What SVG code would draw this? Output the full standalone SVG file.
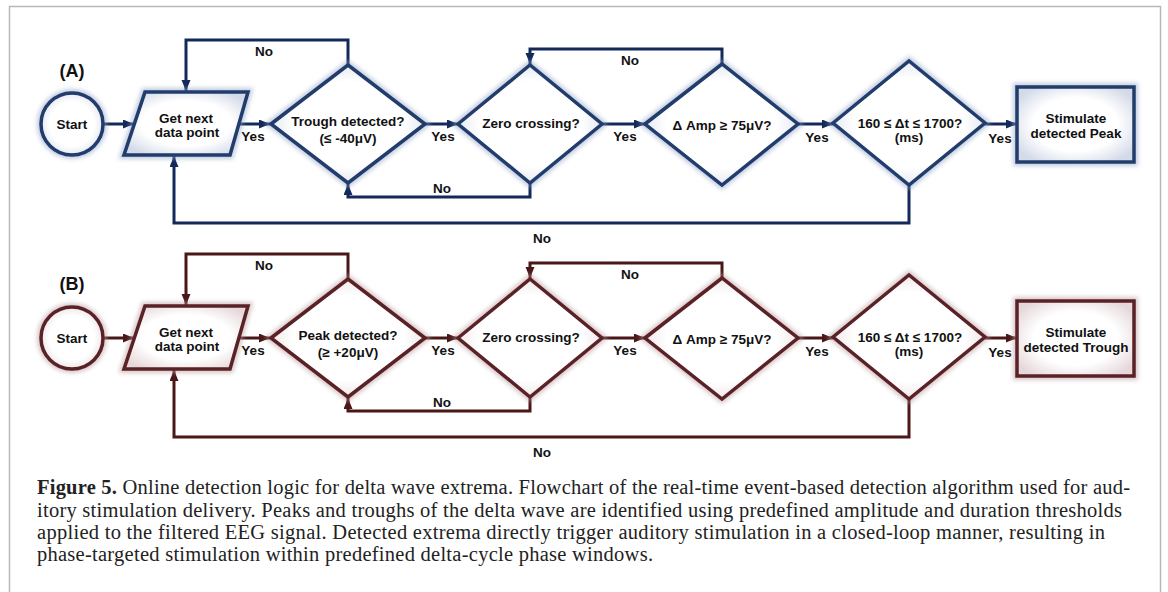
<svg xmlns="http://www.w3.org/2000/svg" width="1168" height="592" viewBox="0 0 1168 592">
<defs>
<style>
.lbl{font-family:"Liberation Sans",Arial,sans-serif;font-weight:bold;font-size:13.5px;fill:#111;text-anchor:middle}
.pan{font-family:"Liberation Sans",Arial,sans-serif;font-weight:bold;font-size:18px;fill:#111;text-anchor:middle}
.cap{font-family:"Liberation Serif","Times New Roman",serif;font-size:20.5px;fill:#222}
.nA{fill:url(#gA);stroke:#203c6c;stroke-width:3.5;stroke-linejoin:miter}
.hA{fill:none;stroke:#8fa2c6;stroke-width:8;opacity:.55}
.nB{fill:url(#gB);stroke:#5a2226;stroke-width:3.5;stroke-linejoin:miter}
.hB{fill:none;stroke:#b99a9c;stroke-width:8;opacity:.55}
.cA{fill:none;stroke:#13295a;stroke-width:3}
.cB{fill:none;stroke:#4a1719;stroke-width:3}
</style>
<radialGradient id="gA" cx="50%" cy="50%" r="60%">
<stop offset="0.6" stop-color="#ffffff"/>
<stop offset="1" stop-color="#d3dae8"/>
</radialGradient>
<radialGradient id="gB" cx="50%" cy="50%" r="60%">
<stop offset="0.6" stop-color="#ffffff"/>
<stop offset="1" stop-color="#e6d8da"/>
</radialGradient>
<filter id="blur" x="-20%" y="-20%" width="140%" height="140%"><feGaussianBlur stdDeviation="2"/></filter>
<filter id="soft" x="-10%" y="-10%" width="120%" height="120%"><feGaussianBlur stdDeviation="0.5"/></filter>
<marker id="aA" markerUnits="userSpaceOnUse" markerWidth="12" markerHeight="10" refX="11" refY="4.5" orient="auto"><path d="M0,0 L11,4.5 L0,9 Z" fill="#13295a"/></marker>
<marker id="aB" markerUnits="userSpaceOnUse" markerWidth="12" markerHeight="10" refX="11" refY="4.5" orient="auto"><path d="M0,0 L11,4.5 L0,9 Z" fill="#4a1719"/></marker>
</defs>
<rect x="0" y="0" width="1168" height="592" fill="#ffffff"/>
<rect x="9.5" y="6.5" width="1151" height="600" fill="#ffffff" stroke="#b8b8b8" stroke-width="1.5"/>

<!-- Panel A -->
<g id="panelA">
<text class="pan" x="72" y="77">(A)</text>
<g id="connectorsA">
<path class="cA" d="M104,124 H134" marker-end="url(#aA)"/>
<path class="cA" d="M239,124 H270" marker-end="url(#aA)"/>
<path class="cA" d="M348,65 V40 H186 V91" marker-end="url(#aA)"/>
<path class="cA" d="M425,124 H458" marker-end="url(#aA)"/>
<path class="cA" d="M530,183 V197 H348 V184" marker-end="url(#aA)"/>
<path class="cA" d="M722,64 V49 H530 V64" marker-end="url(#aA)"/>
<path class="cA" d="M602,124 H645" marker-end="url(#aA)"/>
<path class="cA" d="M798,124 H833" marker-end="url(#aA)"/>
<path class="cA" d="M985,124 H1017" marker-end="url(#aA)"/>
<path class="cA" d="M909,185 V223 H174 V156" marker-end="url(#aA)"/>
<text class="lbl" x="253" y="141">Yes</text>
<text class="lbl" x="264" y="56">No</text>
<text class="lbl" x="443" y="141">Yes</text>
<text class="lbl" x="442" y="193">No</text>
<text class="lbl" x="630" y="65">No</text>
<text class="lbl" x="625" y="141">Yes</text>
<text class="lbl" x="817" y="142">Yes</text>
<text class="lbl" x="1000" y="143">Yes</text>
<text class="lbl" x="542" y="243">No</text>
</g>
<g id="startA">
<circle class="hA" cx="72" cy="124" r="31" filter="url(#blur)"/>
<circle class="nA" cx="72" cy="124" r="31" filter="url(#soft)"/>
<text class="lbl" x="72" y="129">Start</text>
</g>
<g id="getA">
<polygon class="hA" points="145,92 248,92 230,155 124,155" filter="url(#blur)"/>
<polygon class="nA" points="145,92 248,92 230,155 124,155" filter="url(#soft)"/>
<text class="lbl" x="186" y="123">Get next</text>
<text class="lbl" x="187" y="137">data point</text>
</g>
<g id="troughA">
<polygon class="hA" points="271,124 348,65 425,124 348,183" filter="url(#blur)"/>
<polygon class="nA" points="271,124 348,65 425,124 348,183" filter="url(#soft)"/>
<text class="lbl" x="348" y="126">Trough detected?</text>
<text class="lbl" x="348" y="143">(≤ -40μV)</text>
</g>
<g id="zeroA">
<polygon class="hA" points="458,124 530,65 602,124 530,183" filter="url(#blur)"/>
<polygon class="nA" points="458,124 530,65 602,124 530,183" filter="url(#soft)"/>
<text class="lbl" x="531" y="128">Zero crossing?</text>
</g>
<g id="ampA">
<polygon class="hA" points="645,124 722,64 798,124 722,185" filter="url(#blur)"/>
<polygon class="nA" points="645,124 722,64 798,124 722,185" filter="url(#soft)"/>
<text class="lbl" x="722" y="130">Δ Amp ≥ 75μV?</text>
</g>
<g id="dtA">
<polygon class="hA" points="833,123 909,61 985,123 909,185" filter="url(#blur)"/>
<polygon class="nA" points="833,123 909,61 985,123 909,185" filter="url(#soft)"/>
<text class="lbl" x="910" y="128">160 ≤ Δt ≤ 1700?</text>
<text class="lbl" x="909" y="142">(ms)</text>
</g>
<g id="stimA">
<rect class="hA" x="1017" y="87" width="117" height="75" filter="url(#blur)"/>
<rect class="nA" x="1017" y="87" width="117" height="75" filter="url(#soft)"/>
<text class="lbl" x="1076" y="123">Stimulate</text>
<text class="lbl" x="1076" y="138">detected Peak</text>
</g>
</g>

<!-- Panel B -->
<g id="panelB" transform="translate(0,214)">
<text class="pan" x="72" y="76">(B)</text>
<g id="connectorsB">
<path class="cB" d="M104,124 H134" marker-end="url(#aB)"/>
<path class="cB" d="M239,124 H270" marker-end="url(#aB)"/>
<path class="cB" d="M348,65 V40 H186 V91" marker-end="url(#aB)"/>
<path class="cB" d="M425,124 H458" marker-end="url(#aB)"/>
<path class="cB" d="M530,183 V197 H348 V184" marker-end="url(#aB)"/>
<path class="cB" d="M722,64 V49 H530 V64" marker-end="url(#aB)"/>
<path class="cB" d="M602,124 H645" marker-end="url(#aB)"/>
<path class="cB" d="M798,124 H833" marker-end="url(#aB)"/>
<path class="cB" d="M985,124 H1017" marker-end="url(#aB)"/>
<path class="cB" d="M909,185 V223 H174 V156" marker-end="url(#aB)"/>
<text class="lbl" x="253" y="141">Yes</text>
<text class="lbl" x="264" y="56">No</text>
<text class="lbl" x="443" y="141">Yes</text>
<text class="lbl" x="442" y="193">No</text>
<text class="lbl" x="630" y="65">No</text>
<text class="lbl" x="625" y="141">Yes</text>
<text class="lbl" x="817" y="142">Yes</text>
<text class="lbl" x="1000" y="143">Yes</text>
<text class="lbl" x="542" y="243">No</text>
</g>
<g id="startB">
<circle class="hB" cx="72" cy="124" r="31" filter="url(#blur)"/>
<circle class="nB" cx="72" cy="124" r="31" filter="url(#soft)"/>
<text class="lbl" x="72" y="129">Start</text>
</g>
<g id="getB">
<polygon class="hB" points="145,92 248,92 230,155 124,155" filter="url(#blur)"/>
<polygon class="nB" points="145,92 248,92 230,155 124,155" filter="url(#soft)"/>
<text class="lbl" x="186" y="123">Get next</text>
<text class="lbl" x="187" y="137">data point</text>
</g>
<g id="peakB">
<polygon class="hB" points="271,124 348,65 425,124 348,183" filter="url(#blur)"/>
<polygon class="nB" points="271,124 348,65 425,124 348,183" filter="url(#soft)"/>
<text class="lbl" x="348" y="126">Peak detected?</text>
<text class="lbl" x="348" y="143">(≥ +20μV)</text>
</g>
<g id="zeroB">
<polygon class="hB" points="458,124 530,65 602,124 530,183" filter="url(#blur)"/>
<polygon class="nB" points="458,124 530,65 602,124 530,183" filter="url(#soft)"/>
<text class="lbl" x="531" y="128">Zero crossing?</text>
</g>
<g id="ampB">
<polygon class="hB" points="645,124 722,64 798,124 722,185" filter="url(#blur)"/>
<polygon class="nB" points="645,124 722,64 798,124 722,185" filter="url(#soft)"/>
<text class="lbl" x="722" y="130">Δ Amp ≥ 75μV?</text>
</g>
<g id="dtB">
<polygon class="hB" points="833,123 909,61 985,123 909,185" filter="url(#blur)"/>
<polygon class="nB" points="833,123 909,61 985,123 909,185" filter="url(#soft)"/>
<text class="lbl" x="910" y="128">160 ≤ Δt ≤ 1700?</text>
<text class="lbl" x="909" y="142">(ms)</text>
</g>
<g id="stimB">
<rect class="hB" x="1017" y="87" width="117" height="75" filter="url(#blur)"/>
<rect class="nB" x="1017" y="87" width="117" height="75" filter="url(#soft)"/>
<text class="lbl" x="1076" y="123">Stimulate</text>
<text class="lbl" x="1076" y="138">detected Trough</text>
</g>
</g>

<!-- Caption -->
<g id="caption">
<text class="cap" x="37" y="494" textLength="1093" lengthAdjust="spacing"><tspan font-weight="bold">Figure 5.</tspan> Online detection logic for delta wave extrema. Flowchart of the real-time event-based detection algorithm used for aud-</text>
<text class="cap" x="37" y="517" textLength="1085" lengthAdjust="spacing">itory stimulation delivery. Peaks and troughs of the delta wave are identified using predefined amplitude and duration thresholds</text>
<text class="cap" x="37" y="539" textLength="1068" lengthAdjust="spacing">applied to the filtered EEG signal. Detected extrema directly trigger auditory stimulation in a closed-loop manner, resulting in</text>
<text class="cap" x="37" y="561" textLength="616" lengthAdjust="spacing">phase-targeted stimulation within predefined delta-cycle phase windows.</text>
</g>
</svg>
